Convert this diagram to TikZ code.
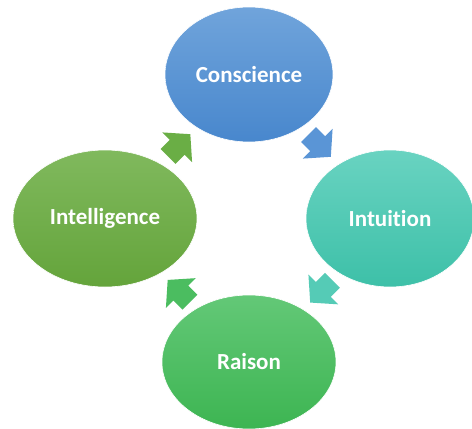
\documentclass[tikz,border=0pt]{standalone}
\usepackage{fontspec}
\setmainfont[Ligatures=NoCommon]{Carlito}
\usetikzlibrary{shapes.geometric,calc}
\definecolor{consT}{HTML}{70A4DB}
\definecolor{consB}{HTML}{4887CD}
\definecolor{intuT}{HTML}{69D3C1}
\definecolor{intuB}{HTML}{3DC0A8}
\definecolor{raisT}{HTML}{63C877}
\definecolor{raisB}{HTML}{3DB552}
\definecolor{intlT}{HTML}{80B95D}
\definecolor{intlB}{HTML}{64A43B}
\definecolor{arr1}{HTML}{5A95D6}
\definecolor{arr2}{HTML}{55CBB6}
\definecolor{arr3}{HTML}{4BBD60}
\definecolor{arr4}{HTML}{6AAE45}
\tikzset{
  bubble/.style={ellipse, inner sep=0pt, draw=white, line width=0.6pt,
    text=white, font=\fontsize{23}{27}\selectfont\bfseries},
  blockarrow/.style={draw=none}
}
\newcommand{\cyclearrow}[3]{%
  \path[blockarrow, fill=#3, shift={(#1)}, rotate=#2]
    (-15.5,-10.5) -- (-2.5,-10.5) -- (-2.5,-21) -- (16,0) -- (-2.5,21)
    -- (-2.5,10.5) -- (-15.5,10.5) -- cycle;}
\begin{document}
\begin{tikzpicture}[x=1pt,y=-1pt]
\useasboundingbox (0,0) rectangle (472,429);
\fill[white] (0,0) rectangle (472,429);
\node[bubble, minimum width=168pt, minimum height=135pt, top color=consT, bottom color=consB] (cons) at (249,74.5) {Conscience};
\node[bubble, minimum width=168pt, minimum height=137pt, top color=intuT, bottom color=intuB] (intu) at (390,218.5) {Intuition};
\node[bubble, minimum width=174pt, minimum height=134pt, top color=raisT, bottom color=raisB] (rais) at (249,362) {Raison};
\node[bubble, minimum width=184pt, minimum height=137pt, top color=intlT, bottom color=intlB] (intl) at (105,218.5) {Intelligence};
\coordinate (a1) at ($(cons)!0.5!(intu)+(0,-1)$);
\coordinate (a2) at ($(intu)!0.5!(rais)+(2,1)$);
\coordinate (a3) at ($(rais)!0.5!(intl)+(2,1)$);
\coordinate (a4) at ($(intl)!0.5!(cons)+(2,-1)$);
\cyclearrow{a1}{-45}{arr1}
\cyclearrow{a2}{-135}{arr2}
\cyclearrow{a3}{135}{arr3}
\cyclearrow{a4}{45}{arr4}
\end{tikzpicture}
\end{document}
